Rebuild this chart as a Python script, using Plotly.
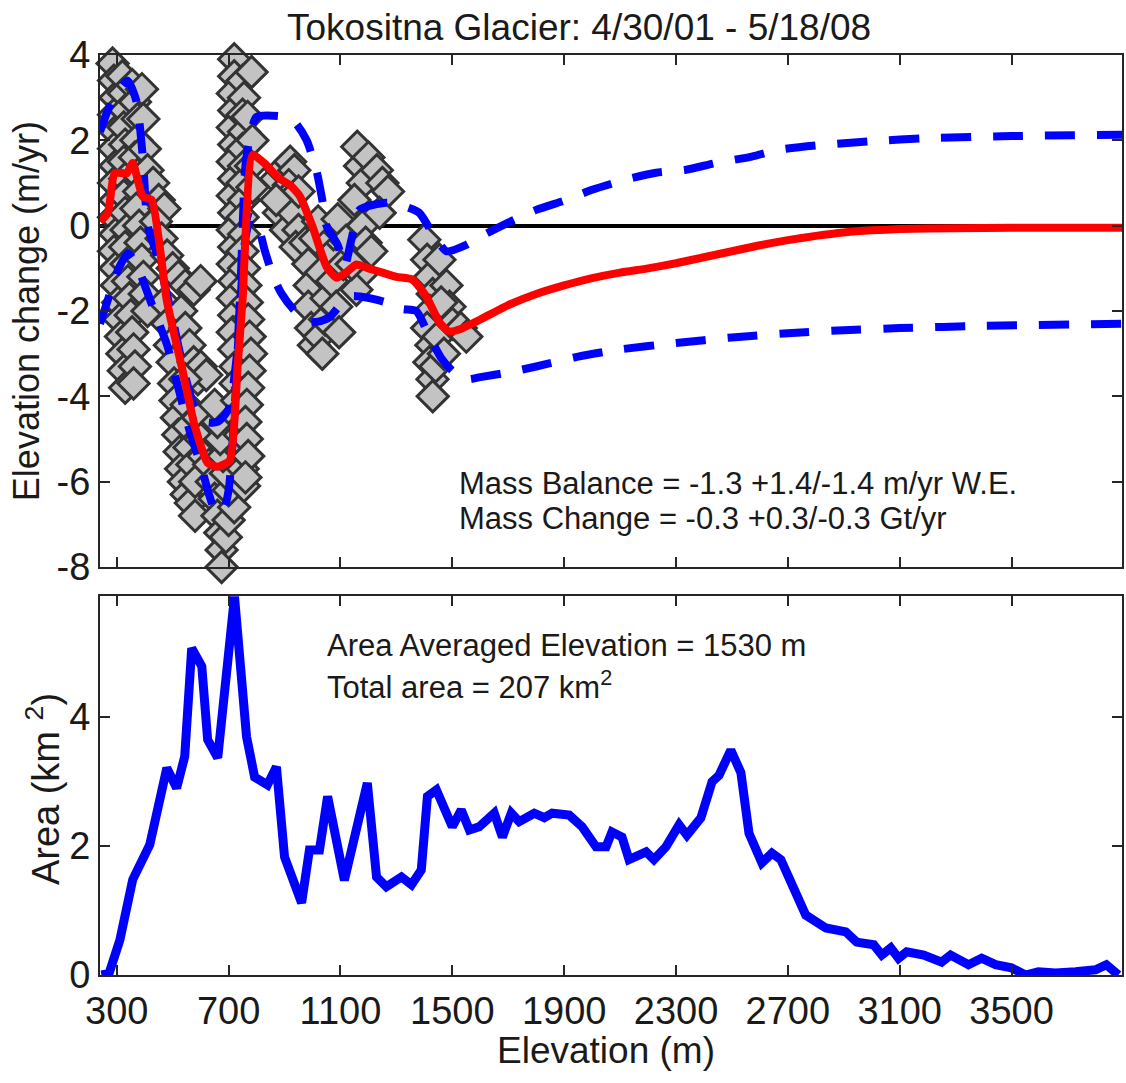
import plotly.graph_objects as go

# ---------------- data ----------------
title_text = "Tokositna Glacier: 4/30/01 - 5/18/08"
x_ticks = [300, 700, 1100, 1500, 1900, 2300, 2700, 3100, 3500]
top_y_ticks = [-8, -6, -4, -2, 0, 2, 4]
bot_y_ticks = [0, 2, 4]

# scatter of elevation change samples (m/yr)
pts_x = [285, 290, 295, 290, 295, 290, 295, 290, 295, 290, 295, 290, 295, 300, 305, 310, 315, 320, 325, 330,
         320, 325, 330, 325, 330, 325, 330, 325, 330, 335, 330, 335, 340, 345, 350, 355, 360, 365, 360,
         355, 365, 375, 370, 365, 375, 380, 370, 380, 385, 390, 395, 400, 410,
         390, 395, 400, 410,
         430, 450, 470, 440, 460, 480, 500, 520, 545, 575, 600,
         470, 480, 490, 500, 505, 510, 515, 520, 525, 530, 540, 550, 565, 580,
         530, 545, 560, 575, 590, 600, 620, 545, 550, 555, 560, 570, 580,
         590, 600, 610,
         630, 640, 650, 660, 670, 675, 675, 690, 700, 720, 700, 690, 680, 670, 660, 650,
         720, 720, 715, 720, 715, 720, 715, 720, 715, 720, 715, 720, 715, 720, 715, 720, 715, 720, 725, 725, 730, 735, 740, 745, 750, 755,
         750, 755, 750, 755, 750, 755, 750, 755, 750, 755, 750, 755, 760, 765, 770, 775, 780, 775, 770, 765, 760, 765, 770, 760,
         782, 768, 785, 780, 785,
         870, 890, 920, 935, 915, 900, 880, 905, 930, 950, 950, 940, 870,
         975, 985, 990, 985, 995, 1005, 1025, 1035, 1045, 1050, 1030, 1060, 1075, 1070, 1085, 1095, 1110, 1010, 1020,
         1090, 1120, 1160, 1170, 1180, 1200, 1230, 1250, 1270, 1180, 1190, 1180, 1157, 1210, 1240, 1150, 1140,
         1400, 1410, 1420, 1430, 1420, 1410, 1425, 1418, 1429, 1430, 1440, 1450, 1454, 1479, 1490, 1500, 1530, 1550, 1460, 1470]
pts_y = [3.8, 3.4, 3.0, 2.6, 2.2, 1.8, 1.4, 1.0, 0.6, 0.2, -0.2, -0.6, -1.0, -1.4, -1.8, -2.2, -2.6, -3.0, -3.4, -3.8,
         3.5, 3.1, 2.7, 2.3, 1.9, 1.5, 1.1, 0.7, 0.3, -0.1, -0.5, -0.9, -1.3, -1.7, -2.1, -2.5, -2.9, -3.3, -3.7,
         3.3, 2.9, 2.5, 2.0, 1.6, 1.2, 0.8, 0.4, 0.0, -0.4, -0.8, -1.2, -1.6, -2.0,
         3.2, 2.5, 1.8, 1.3,
         1.0, 0.6, 0.4, 0.1, -0.3, -0.7, -1.0, -1.2, -1.4, -1.5, -1.3,
         -1.8, -2.3, -2.8, -3.2, -3.7, -4.1, -4.5, -4.9, -5.3, -5.7, -6.0, -6.3, -6.5, -6.8,
         -2.0, -2.4, -2.8, -3.2, -3.6, -3.3, -3.5, -3.6, -4.2, -4.7, -5.2, -5.6, -6.0,
         -4.5, -5.0, -5.4,
         -5.6, -6.0, -6.4, -6.8, -7.2, -7.6, -8.0, -7.3, -6.9, -6.6, -6.2, -5.8, -5.4, -5.0, -4.6, -4.2,
         3.9, 3.5, 3.1, 2.7, 2.3, 1.9, 1.5, 1.1, 0.7, 0.3, -0.1, -0.5, -0.9, -1.3, -1.7, -2.1, -2.5, -2.9, -3.3, -3.7, -4.1, -4.5, -4.9, -5.3, -5.7, -6.1,
         3.4, 3.0, 2.6, 2.2, 1.8, 1.4, 1.0, 0.6, 0.2, -0.2, -0.6, -1.0, -1.4, -1.8, -2.2, -2.6, -3.0, -3.4, -3.8, -4.2, -4.6, -5.0, -5.4, -5.9,
         3.6, 2.55, 2.0, 1.4, 0.9,
         1.1, 1.3, 1.5, 1.3, 0.95, 0.6, 0.3, -0.1, 0.3, 0.8, -0.1, -0.5, 0.6,
         -0.4, -0.9, -1.4, -1.9, -2.4, -2.8, -2.6, -3.0, -2.2, -1.7, -1.1, -0.6, -0.2, -1.3, -1.9, -2.5, -0.9, -0.3, 0.1,
         0.15, -0.35, 1.85, 1.4, 1.0, 1.6, 1.3, 1.0, 0.8, 0.0, -0.4, -1.1, -1.5, -0.6, 0.3, 0.6, -0.9,
         -0.33, -0.8, -1.2, -1.6, -2.0, -2.4, -2.8, -3.2, -3.6, -4.0, -3.3, -2.6, -0.8, -1.4, -1.9, -2.3, -2.4, -2.6, -1.8, -3.0]

# mean elevation change curve (red)
mean_x = [240, 268, 293, 336, 357, 393, 425, 479, 532, 579, 625, 661, 704, 732, 750, 786, 830, 882, 920, 954,
          1000, 1050, 1086, 1120, 1157, 1200, 1250, 1300, 1357, 1407, 1454, 1489, 1530, 1600, 1700, 1800, 1900,
          2000, 2100, 2200, 2300, 2400, 2500, 2600, 2700, 2800, 2900, 3000, 3100, 3300, 3500, 3895]
mean_y = [0.1, 0.3, 1.23, 1.23, 1.47, 0.68, 0.6, -1.76, -3.3, -4.7, -5.56, -5.65, -5.5, -3.3, -1.73, 1.66, 1.45, 1.1, 0.95, 0.7,
          -0.02, -0.96, -1.22, -1.1, -0.91, -1.0, -1.1, -1.2, -1.26, -1.66, -2.27, -2.48, -2.42, -2.2, -1.86, -1.6, -1.4,
          -1.23, -1.1, -1.0, -0.88, -0.74, -0.6, -0.46, -0.34, -0.24, -0.16, -0.11, -0.08, -0.06, -0.05, -0.05]

# upper bound (blue dashed)
upper_x = [240, 268, 300, 339, 371, 393, 411, 440, 461, 500, 540, 580, 620, 660, 700, 730, 745, 760, 780, 800,
           900, 940, 979, 1014, 1035, 1050, 1090, 1115, 1140, 1168, 1264, 1330, 1382, 1443, 1480, 1550, 1600,
           1700, 1800, 1907, 2000, 2121, 2229, 2336, 2443, 2571, 2668, 2800, 3000, 3200, 3500, 3895]
upper_y = [2.2, 2.7, 3.1, 3.4, 2.9, 1.6, 0.0, -0.6, -1.1, -2.2, -3.4, -4.3, -4.6, -4.6, -4.3, -3.0, -1.0, 1.4, 2.2, 2.55,
           2.55, 2.4, 2.0, 1.3, 0.6, 0.0, -0.45, -0.95, -0.3, 0.37, 0.54, 0.45, 0.3, -0.33, -0.6, -0.45, -0.26,
           0.07, 0.37, 0.6, 0.84, 1.08, 1.24, 1.31, 1.47, 1.62, 1.78, 1.88, 1.98, 2.05, 2.1, 2.13]

# lower bound (blue dashed)
lower_x = [240, 270, 300, 340, 370, 400, 440, 480, 520, 560, 600, 630, 650, 680, 700, 720, 740, 760, 780, 800,
           830, 860, 890, 930, 980, 1020, 1060, 1100, 1140, 1170, 1220, 1264, 1320, 1371, 1418, 1460, 1500, 1550,
           1600, 1700, 1800, 1950, 2100, 2300, 2500, 2700, 2900, 3100, 3400, 3895]
lower_y = [-2.3, -1.7, -1.1, -0.65, -0.9, -1.4, -2.1, -2.8, -3.8, -4.8, -5.6, -6.3, -6.65, -6.7, -6.2, -4.5, -2.0, -0.3, 0.2, 0.1,
           -0.6, -1.2, -1.6, -1.95, -2.25, -2.25, -2.15, -1.85, -1.65, -1.66, -1.72, -1.8, -1.95, -2.0, -2.6, -3.1, -3.4, -3.6,
           -3.55, -3.44, -3.3, -3.07, -2.9, -2.75, -2.62, -2.52, -2.45, -2.4, -2.35, -2.3]

# area-elevation distribution (km^2)
area_x = [245, 272, 311, 357, 418, 479, 514, 543, 568, 604, 625, 661, 721, 764, 793, 839, 871, 900, 961, 989,
          1025, 1054, 1114, 1196, 1229, 1264, 1318, 1354, 1389, 1411, 1443, 1500, 1532, 1561, 1596, 1650, 1679, 1711,
          1739, 1793, 1829, 1857, 1918, 1964, 2014, 2050, 2071, 2107, 2132, 2193, 2221, 2264, 2311, 2339, 2389, 2429,
          2454, 2496, 2532, 2561, 2607, 2643, 2675, 2704, 2750, 2764, 2836, 2907, 2946, 3007, 3036, 3068, 3096, 3125,
          3186, 3250, 3282, 3346, 3393, 3443, 3500, 3550, 3596, 3657, 3729, 3800, 3839, 3882]
area_y = [0.0, 0.02, 0.54, 1.48, 2.02, 3.21, 2.9, 3.39, 5.07, 4.79, 3.65, 3.37, 5.87, 3.70, 3.07, 2.95, 3.23, 1.83, 1.12, 1.94,
          1.94, 2.77, 1.47, 2.98, 1.52, 1.37, 1.52, 1.40, 1.63, 2.77, 2.87, 2.3, 2.56, 2.25, 2.30, 2.51, 2.14, 2.51,
          2.38, 2.51, 2.44, 2.51, 2.48, 2.30, 1.99, 1.99, 2.22, 2.14, 1.79, 1.91, 1.79, 1.99, 2.33, 2.17, 2.44, 3.0,
          3.10, 3.49, 3.14, 2.2, 1.74, 1.89, 1.79, 1.5, 1.06, 0.93, 0.73, 0.67, 0.51, 0.47, 0.31, 0.42, 0.26, 0.36,
          0.31, 0.2, 0.31, 0.16, 0.26, 0.16, 0.11, 0.0, 0.05, 0.03, 0.05, 0.08, 0.16, 0.0]

mb_text = "Mass Balance = -1.3 +1.4/-1.4 m/yr W.E."
mc_text = "Mass Change = -0.3 +0.3/-0.3 Gt/yr"
aae_text = "Area Averaged Elevation = 1530 m"
ta_text = "Total area = 207 km<sup>2</sup>"

# ---------------- figure ----------------
FONT = "Liberation Sans, Arial, Helvetica, sans-serif"
AX = "#262626"
TXT = "#1a1a1a"
fig = go.Figure()

fig.add_trace(go.Scatter(x=pts_x, y=pts_y, mode="markers", xaxis="x", yaxis="y", cliponaxis=False,
                         marker=dict(symbol="diamond", size=24, color="#c3c3c3",
                                     line=dict(color="#333333", width=3)),
                         showlegend=False, hoverinfo="skip"))
fig.add_trace(go.Scatter(x=upper_x, y=upper_y, mode="lines", xaxis="x", yaxis="y",
                         line=dict(color="#0000ff", width=8, dash="30px,22px", shape="spline", smoothing=0.6),
                         showlegend=False))
fig.add_trace(go.Scatter(x=lower_x, y=lower_y, mode="lines", xaxis="x", yaxis="y",
                         line=dict(color="#0000ff", width=8, dash="30px,22px", shape="spline", smoothing=0.6),
                         showlegend=False))
fig.add_trace(go.Scatter(x=mean_x, y=mean_y, mode="lines", xaxis="x", yaxis="y",
                         line=dict(color="#ff0000", width=8, shape="spline", smoothing=0.5),
                         showlegend=False))
fig.add_trace(go.Scatter(x=area_x, y=area_y, mode="lines", xaxis="x2", yaxis="y2",
                         line=dict(color="#0000ff", width=9),
                         showlegend=False))

W, H = 1126, 1083
ML, MR, MT, MB = 100, 2, 55, 108
PW, PH = W - ML - MR, H - MT - MB

def px(x):
    return (x - ML) / PW

def py(y):
    return (H - MB - y) / PH

axis_common = dict(showline=True, linecolor=AX, linewidth=2, mirror="ticks",
                   ticks="inside", ticklen=10, tickwidth=2, tickcolor=AX,
                   showgrid=False, tickfont=dict(family=FONT, size=38, color=TXT))

fig.update_layout(
    width=W, height=H,
    margin=dict(l=ML, r=MR, t=MT, b=MB),
    paper_bgcolor="white", plot_bgcolor="white",
    xaxis=dict(domain=[0, 1], range=[240, 3895], anchor="y", tickvals=x_ticks,
               showticklabels=False, zeroline=False, **axis_common),
    yaxis=dict(domain=[py(567), 1], range=[-8, 4], anchor="x", tickvals=top_y_ticks,
               ticktext=[str(v) for v in top_y_ticks], zeroline=True, zerolinecolor="black",
               zerolinewidth=3.5, ticklabelstandoff=0, **axis_common),
    xaxis2=dict(domain=[0, 1], range=[240, 3895], anchor="y2", tickvals=x_ticks,
                ticktext=[str(v) for v in x_ticks], zeroline=False, ticklabelstandoff=1, **axis_common),
    yaxis2=dict(domain=[0, py(596)], range=[0, 5.88], anchor="x2", tickvals=bot_y_ticks,
                ticktext=[str(v) for v in bot_y_ticks], zeroline=False, ticklabelstandoff=0, **axis_common),
)

def ann(text, x, y, size, xanchor="left", yanchor="middle", angle=0):
    fig.add_annotation(text=text, x=px(x), y=py(y), xref="paper", yref="paper",
                       xanchor=xanchor, yanchor=yanchor, showarrow=False, textangle=angle,
                       font=dict(family=FONT, size=size, color=TXT))

ann(title_text, 580, 28, 37, xanchor="center")
ann(mb_text, 458, 483, 31)
ann(mc_text, 458, 518, 31)
ann(aae_text, 325, 645, 31)
ann(ta_text, 325, 685, 31)
ann("Elevation (m)", 607, 1050, 37, xanchor="center")
ann("Elevation change (m/yr)", 27, 311, 36, xanchor="center", angle=-90)
ann("Area (km <sup>2</sup>)", 43, 789, 38, xanchor="center", angle=-90)

fig.write_html("out.html")
